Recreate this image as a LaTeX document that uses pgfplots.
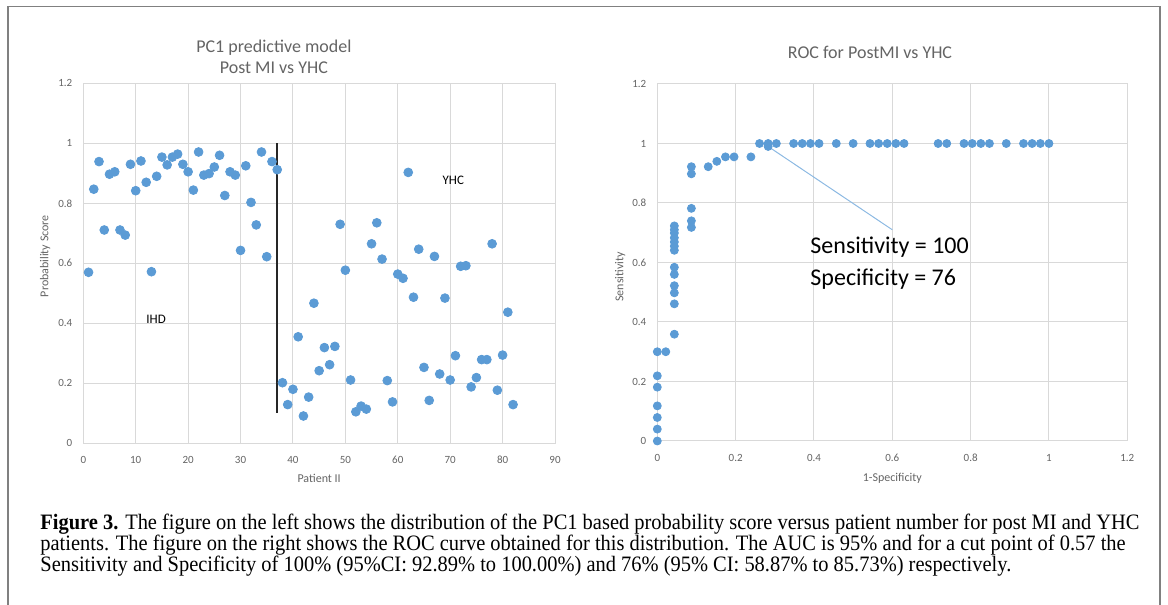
\documentclass[border=0pt]{standalone}
\usepackage{fontspec}
\setmainfont{Carlito}
\newfontfamily\capfont[FakeStretch=0.93]{Liberation Serif}
\usepackage{pgfplots}
\pgfplotsset{compat=1.18}
\definecolor{mblue}{RGB}{91,155,213}
\definecolor{gridc}{RGB}{217,217,217}
\definecolor{txtc}{RGB}{100,100,100}
\pgfplotsset{excel/.style={
  scale only axis,
  axis line style={gridc, line width=0.5pt},
  grid=major, grid style={gridc, line width=0.5pt},
  tick style={draw=none},
  ticklabel style={font=\fontsize{5.5}{6}\selectfont, text=txtc},
  /pgf/number format/assume math mode=true,
  label style={font=\fontsize{6}{7}\selectfont, text=txtc},
  title style={font=\fontsize{9}{10.5}\selectfont, text=txtc, align=center},
  ymin=0, ymax=1.2, ytick={0,0.2,0.4,0.6,0.8,1,1.2},
  yticklabel style={xshift=-2pt},
  xticklabel style={yshift=-3pt},
}}
\pgfplotstableread{
x y
1 0.570
2 0.847
3 0.939
4 0.711
5 0.897
6 0.905
7 0.711
8 0.694
9 0.930
10 0.842
11 0.941
12 0.870
13 0.572
14 0.890
15 0.954
16 0.928
17 0.954
18 0.964
19 0.930
20 0.905
21 0.844
22 0.971
23 0.894
24 0.899
25 0.921
26 0.960
27 0.826
28 0.905
29 0.894
30 0.643
31 0.925
32 0.803
33 0.728
34 0.971
35 0.622
36 0.939
37 0.912
}\ihd
\pgfplotstableread{
x y
38 0.202
39 0.129
40 0.180
41 0.355
42 0.091
43 0.154
44 0.467
45 0.242
46 0.319
47 0.262
48 0.323
49 0.730
50 0.577
51 0.211
52 0.105
53 0.124
54 0.114
55 0.665
56 0.735
57 0.614
58 0.209
59 0.138
60 0.564
61 0.550
62 0.903
63 0.487
64 0.647
65 0.253
66 0.143
67 0.623
68 0.231
69 0.484
70 0.211
71 0.292
72 0.590
73 0.592
74 0.188
75 0.219
76 0.279
77 0.279
78 0.665
79 0.177
80 0.294
81 0.437
82 0.129
}\yhc
\pgfplotstableread{
x y
0 0
0 0.040
0 0.079
0 0.118
0 0.181
0 0.219
0 0.300
0.0217 0.300
0.0435 0.359
0.0435 0.461
0.0435 0.498
0.0435 0.522
0.0435 0.560
0.0435 0.584
0.0435 0.641
0.0435 0.655
0.0435 0.669
0.0435 0.683
0.0435 0.699
0.0435 0.710
0.0435 0.723
0.087 0.718
0.087 0.740
0.087 0.782
0.087 0.898
0.087 0.922
0.130 0.922
0.152 0.940
0.174 0.955
0.196 0.955
0.239 0.955
0.261 1
0.283 1
0.283 0.990
0.304 1
0.348 1
0.370 1
0.391 1
0.413 1
0.457 1
0.500 1
0.543 1
0.565 1
0.587 1
0.609 1
0.630 1
0.717 1
0.739 1
0.783 1
0.804 1
0.826 1
0.848 1
0.891 1
0.935 1
0.957 1
0.978 1
1 1
}\roc
\begin{document}
\begin{tikzpicture}
\useasboundingbox (0,0) rectangle (584pt,302.5pt);
\draw[gray, line width=0.9pt] (4.15pt,-2pt) -- (4.15pt,299.25pt) -- (580pt,299.25pt) -- (580pt,-2pt);
% left chart
\begin{axis}[excel,
  at={(41.65pt,80.85pt)}, anchor=south west,
  width=235.85pt, height=180pt,
  xmin=0, xmax=90, xtick={0,10,...,90},
  title={PC1 predictive model\\Post MI vs YHC},
  title style={at={(axis description cs:0.404,1)}, anchor=center, yshift=7.4pt},
  xlabel={Patient II},
  xlabel style={at={(axis description cs:0.5,0)}, anchor=center, yshift=-17.5pt},
  ylabel={Probability Score},
  ylabel style={at={(axis description cs:0,0.52)}, anchor=center, yshift=19pt},
]
\addplot[only marks, mark=*, mark size=2.2pt, mark options={draw=mblue, fill=mblue}] table[x=x,y=y] {\ihd};
\addplot[only marks, mark=*, mark size=2.2pt, mark options={draw=mblue, fill=mblue}] table[x=x,y=y] {\yhc};
\addplot[black!85, line width=0.8pt] coordinates {(37,1) (37,0.1)};
\node[font=\fontsize{6.5}{7}\selectfont] at (axis cs:13.9,0.413) {IHD};
\node[font=\fontsize{6.5}{7}\selectfont] at (axis cs:70.6,0.878) {YHC};
\end{axis}
% right chart
\begin{axis}[excel,
  at={(328.65pt,82pt)}, anchor=south west,
  width=235pt, height=178.5pt,
  xmin=0, xmax=1.2, xtick={0,0.2,0.4,0.6,0.8,1,1.2},
  title={ROC for PostMI vs YHC},
  title style={at={(axis description cs:0.4526,1)}, anchor=center, yshift=10pt},
  xlabel={1-Specificity},
  xlabel style={at={(axis description cs:0.5,0)}, anchor=center, yshift=-18.5pt},
  ylabel={Sensitivity},
  ylabel style={at={(axis description cs:0,0.46)}, anchor=center, yshift=18.5pt},
]
\addplot[mblue!70, line width=0.5pt] coordinates {(0.283,0.99) (0.600,0.71)};
\addplot[only marks, mark=*, mark size=2pt, mark options={draw=mblue, fill=mblue}] table[x=x,y=y] {\roc};
\node[anchor=west, font=\fontsize{12}{13}\selectfont, inner sep=0pt] at (axis cs:0.39,0.651) {Sensitivity = 100};
\node[anchor=west, font=\fontsize{12}{13}\selectfont, inner sep=0pt] at (axis cs:0.39,0.544) {Specificity = 76};
\end{axis}
% caption
\node[anchor=base west, inner sep=0pt, font=\capfont\fontsize{11}{11}\selectfont] at (20pt,37.8pt) {\textbf{Figure 3.} The figure on the left shows the distribution of the PC1 based probability score versus patient number for post MI and YHC};
\node[anchor=base west, inner sep=0pt, font=\capfont\fontsize{11}{11}\selectfont] at (20pt,27.3pt) {patients. The figure on the right shows the ROC curve obtained for this distribution. The AUC is 95\% and for a cut point of 0.57 the};
\node[anchor=base west, inner sep=0pt, font=\capfont\fontsize{11}{11}\selectfont] at (20pt,16.8pt) {Sensitivity and Specificity of 100\% (95\%CI: 92.89\% to 100.00\%) and 76\% (95\% CI: 58.87\% to 85.73\%) respectively.};
\end{tikzpicture}
\end{document}
